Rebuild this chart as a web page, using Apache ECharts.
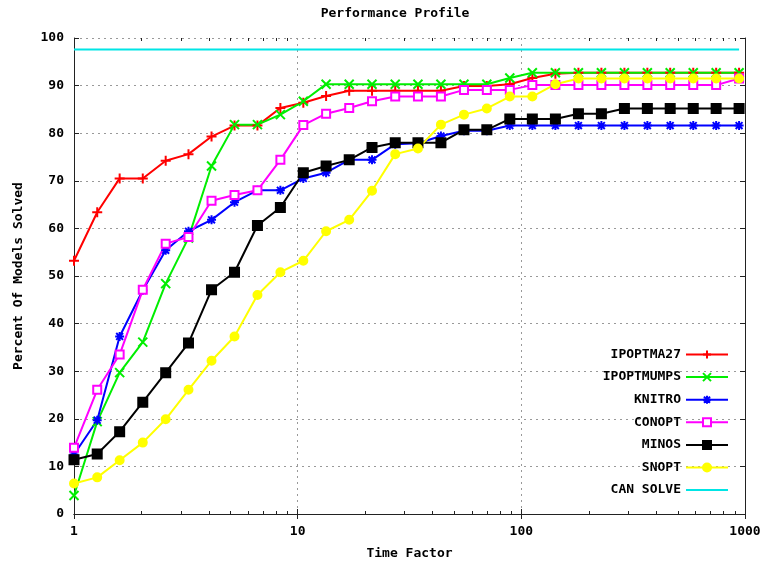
<!DOCTYPE html>
<html><head><meta charset="utf-8">
<script src="https://cdn.jsdelivr.net/npm/echarts@6/dist/echarts.min.js"></script>
<style>html,body{margin:0;padding:0;background:#fff}#c{width:766px;height:565px}</style>
</head><body><div id="c"></div>
<script>
// ---- data ----
const timeFactors = [1, 1.27, 1.6, 2.03, 2.57, 3.25, 4.12, 5.22, 6.61, 8.37, 10.6, 13.4, 17, 21.5, 27.3, 34.5, 43.7, 55.4, 70.1, 88.8, 112, 142, 180, 228, 289, 366, 463, 587, 743, 941];
const ipoptma27 = [53.2,63.4,70.5,70.5,74.2,75.6,79.3,81.6,81.6,85.3, 86.4,87.8,88.9,88.9,88.9,88.9,88.9,89.9,89.9,90.3, 91.6,92.5,92.7,92.7,92.7,92.7,92.7,92.7,92.7,92.7];
const ipoptmumps = [3.9,19.4,29.7,36.1,48.4,58.0,73.1,81.8,81.8,83.9, 86.7,90.3,90.3,90.3,90.3,90.3,90.3,90.3,90.3,91.6, 92.7,92.7,92.7,92.7,92.7,92.7,92.7,92.7,92.7,92.7];
const knitro = [12.5,19.7,37.3,47.0,55.4,59.4,61.8,65.5,68.0,68.0, 70.5,71.7,74.4,74.4,77.7,77.9,79.4,80.5,80.5,81.6, 81.6,81.6,81.6,81.6,81.6,81.6,81.6,81.6,81.6,81.6];
const conopt = [13.9,26.1,33.5,47.1,56.8,58.2,65.8,67.0,68.0,74.4, 81.7,84.1,85.3,86.7,87.7,87.7,87.7,89.1,89.1,89.1, 90.1,90.1,90.1,90.1,90.1,90.1,90.1,90.1,90.1,91.5];
const minos = [11.4,12.6,17.3,23.5,29.7,35.9,47.1,50.8,60.6,64.4, 71.7,73.1,74.4,77.0,78.0,78.0,78.0,80.7,80.7,83.0, 83.0,83.0,84.1,84.1,85.2,85.2,85.2,85.2,85.2,85.2];
const snopt = [6.4,7.7,11.3,15.0,19.9,26.1,32.2,37.3,46.0,50.8, 53.2,59.4,61.8,67.9,75.6,76.8,81.8,83.9,85.2,87.7, 87.7,90.3,91.5,91.5,91.5,91.5,91.5,91.5,91.5,91.5];
const canSolve = 97.6;
const xTickLabels = [1, 10, 100, 1000];
const minorTicks = [2,3,4,5,6,7,8,9,20,30,40,50,60,70,80,90,200,300,400,500,600,700,800,900];
const seriesNames = ['IPOPTMA27','IPOPTMUMPS','KNITRO','CONOPT','MINOS','SNOPT','CAN SOLVE'];

// ---- styling ----
const FONT = '"DejaVu Sans Mono", "Liberation Mono", monospace';
const AX = '#222';
const pathPlus = 'path://M5,0L5,10M0,5L10,5';
const pathX = 'path://M0,0L10,10M10,0L0,10';
const pathStar = 'path://M5,0L5,10M0,5L10,5M1.2,1.2L8.8,8.8M8.8,1.2L1.2,8.8';

function pairs(arr){ return arr.map((v,i)=>[timeFactors[i], v]); }
function lineSeries(name, arr, color, symbol, size, extra){
  return Object.assign({
    name, type:'line', data: pairs(arr), symbol, symbolSize:size, showAllSymbol:true,
    lineStyle:{color, width:2}, itemStyle:{color, borderColor:color, borderWidth:2},
    emphasis:{disabled:true}, animation:false
  }, extra||{});
}

const chart = echarts.init(document.getElementById('c'), null, {renderer:'canvas'});
const axisCommonX = {
  type:'log', logBase:10, min:1, max:1000,
  axisLine:{show:true, lineStyle:{color:AX, width:1}},
  axisTick:{show:true, inside:true, length:5, lineStyle:{color:AX}},
  minorTick:{show:false}
};
const axisCommonY = {
  type:'value', min:0, max:100, interval:10,
  axisLine:{show:true, onZero:false, lineStyle:{color:AX, width:1}},
  axisTick:{show:true, inside:true, length:5, lineStyle:{color:AX}}
};
chart.setOption({
  backgroundColor:'#fff',
  animation:false,
  grid:{left:74, right:21, top:38, bottom:45, containLabel:false},
  graphic:[{type:'text', x:395, y:14, style:{text:'Performance Profile', align:'center', verticalAlign:'middle', font:'bold 13px ' + FONT, fill:'#000'}}],
  legend:{
    orient:'vertical', right:32, top:343, align:'right',
    itemWidth:42, itemHeight:10, itemGap:9.6,
    textStyle:{fontFamily:FONT, fontWeight:'bold', fontSize:13, color:'#000'},
    data: seriesNames
  },
  xAxis:[
    Object.assign({}, axisCommonX, {
      position:'bottom',
      name:'Time Factor', nameLocation:'middle', nameGap:33,
      nameTextStyle:{fontFamily:FONT, fontWeight:'bold', fontSize:13, color:'#000'},
      axisLabel:{show:true, margin:11, fontFamily:FONT, fontWeight:'bold', fontSize:13, color:'#000',
        formatter:(v)=> xTickLabels.indexOf(Math.round(v))>=0 ? String(Math.round(v)) : ''},
      splitLine:{show:true, lineStyle:{color:'#999', type:[2,4], width:1}}
    }),
    Object.assign({}, axisCommonX, {position:'top', axisLabel:{show:false}, splitLine:{show:false}})
  ],
  yAxis:[
    Object.assign({}, axisCommonY, {
      position:'left',
      name:'Percent Of Models Solved', nameLocation:'middle', nameGap:49,
      nameTextStyle:{fontFamily:FONT, fontWeight:'bold', fontSize:13, color:'#000'},
      axisLabel:{show:true, margin:10, fontFamily:FONT, fontWeight:'bold', fontSize:13, color:'#000'},
      splitLine:{show:true, lineStyle:{color:'#999', type:[2,4], width:1}}
    }),
    Object.assign({}, axisCommonY, {position:'right', axisLabel:{show:false}, splitLine:{show:false}})
  ],
  series:[
    {
      name:'minorTicks', type:'custom', silent:true, z:1, animation:false,
      data: minorTicks.map(v=>[v, 0]),
      renderItem:(params, api)=>{
        const b = api.coord([api.value(0), 0]);
        const t = api.coord([api.value(0), 100]);
        const x = Math.round(b[0]) + 0.5;
        return {type:'group', children:[
          {type:'line', shape:{x1:x, y1:b[1], x2:x, y2:b[1]-3}, style:{stroke:AX, lineWidth:1}},
          {type:'line', shape:{x1:x, y1:t[1], x2:x, y2:t[1]+3}, style:{stroke:AX, lineWidth:1}}
        ]};
      }
    },
    lineSeries('IPOPTMA27', ipoptma27, '#ff0000', pathPlus, 10),
    lineSeries('IPOPTMUMPS', ipoptmumps, '#00ee00', pathX, 9),
    lineSeries('KNITRO', knitro, '#0000ff', pathStar, 9),
    lineSeries('CONOPT', conopt, '#ff00ff', 'emptyRect', 8),
    lineSeries('MINOS', minos, '#000000', 'rect', 9),
    lineSeries('SNOPT', snopt, '#ffff00', 'circle', 8),
    {
      name:'CAN SOLVE', type:'line', symbol:'none', animation:false,
      data:[[timeFactors[0], canSolve],[timeFactors[timeFactors.length-1], canSolve]],
      lineStyle:{color:'#00e5e5', width:2}, itemStyle:{color:'#00e5e5', opacity:0},
      emphasis:{disabled:true}
    }
  ]
});
</script></body></html>
